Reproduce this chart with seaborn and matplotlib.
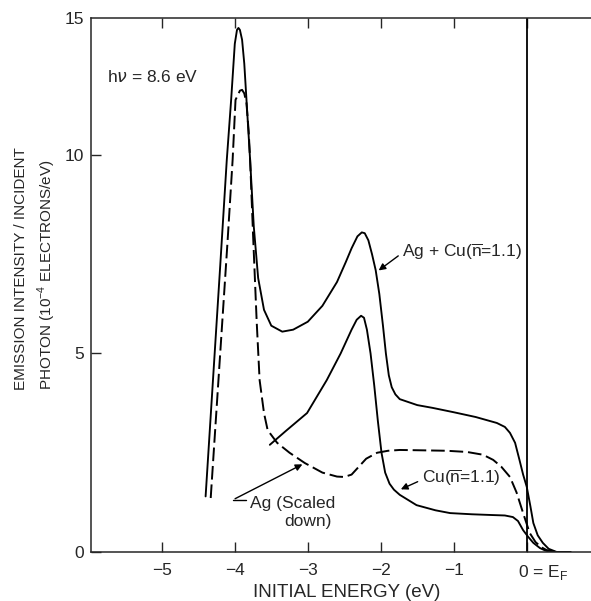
import numpy as np
import pandas as pd
import matplotlib
matplotlib.use('Agg')
import matplotlib.pyplot as plt
import matplotlib.transforms as mtransforms
import seaborn as sns

# ==========================================
# 1. DATA
# ==========================================
# Ag + Cu (n = 1.1), solid upper curve
agcu_x = [-4.40, -4.30, -4.20, -4.11, -4.05, -4.00, -3.97, -3.95, -3.93, -3.90, -3.87,
          -3.84, -3.79, -3.74, -3.68, -3.60, -3.50, -3.35, -3.20, -3.00, -2.80, -2.60,
          -2.48, -2.40, -2.32, -2.26, -2.22, -2.17, -2.12, -2.07, -2.02, -1.97, -1.93,
          -1.89, -1.85, -1.80, -1.74, -1.50, -1.29, -1.00, -0.70, -0.41, -0.30, -0.23,
          -0.16, -0.10, -0.05, 0.00, 0.05, 0.09, 0.15, 0.22, 0.30, 0.41, 0.60]
agcu_y = [1.4, 4.3, 7.2, 9.87, 11.39, 12.8, 13.15, 13.2, 13.15, 12.9, 12.3,
          11.39, 9.87, 8.2, 6.9, 6.1, 5.7, 5.55, 5.6, 5.8, 6.2, 6.8,
          7.3, 7.65, 7.95, 8.05, 8.03, 7.85, 7.5, 7.1, 6.5, 5.7, 5.0,
          4.45, 4.15, 3.97, 3.85, 3.7, 3.63, 3.52, 3.4, 3.25, 3.15, 3.0,
          2.75, 2.32, 1.95, 1.64, 1.15, 0.73, 0.42, 0.23, 0.08, 0.0, 0.0]

# Ag (scaled down), dashed curve
ag_x = [-4.33, -4.20, -4.10, -4.03, -3.99, -3.96, -3.93, -3.90, -3.87, -3.84, -3.81,
        -3.79, -3.75, -3.70, -3.66, -3.60, -3.55, -3.42, -3.25, -3.04, -2.80, -2.60,
        -2.50, -2.40, -2.30, -2.20, -2.05, -1.90, -1.74, -1.40, -1.10, -0.82, -0.60,
        -0.46, -0.35, -0.23, -0.14, -0.05, 0.04, 0.12, 0.20, 0.27, 0.40, 0.60]
ag_y = [1.36, 5.0, 7.8, 9.87, 11.39, 11.5, 11.62, 11.64, 11.55, 11.3, 10.6,
        9.87, 8.0, 5.8, 4.33, 3.5, 3.07, 2.75, 2.5, 2.24, 2.0, 1.9,
        1.89, 1.95, 2.15, 2.35, 2.5, 2.55, 2.57, 2.56, 2.55, 2.52, 2.45,
        2.32, 2.15, 1.89, 1.5, 0.98, 0.48, 0.25, 0.12, 0.05, 0.0, 0.0]

# Cu (n = 1.1), solid lower curve
cu_x = [-3.52, -3.30, -3.01, -2.74, -2.55, -2.40, -2.33, -2.27, -2.23, -2.19, -2.14,
        -2.09, -2.04, -1.99, -1.94, -1.88, -1.82, -1.74, -1.51, -1.25, -1.05, -0.75,
        -0.46, -0.30, -0.19, -0.12, -0.05, 0.02, 0.09, 0.18, 0.25, 0.32, 0.50, 0.60]
cu_y = [2.70, 3.05, 3.5, 4.33, 5.0, 5.6, 5.85, 5.95, 5.9, 5.6, 5.0,
        4.2, 3.3, 2.5, 2.0, 1.72, 1.57, 1.44, 1.18, 1.05, 0.98, 0.95,
        0.93, 0.92, 0.88, 0.78, 0.55, 0.38, 0.23, 0.1, 0.04, 0.0, 0.0, 0.0]

xticks = [-5, -4, -3, -2, -1, 0]
xtick_labels = ['\u22125', '\u22124', '\u22123', '\u22122', '\u22121', r'0 = E$_\mathregular{F}$']
y_top = 13.45
yticks = [0, 5, 10, y_top]
ytick_labels = ['0', '5', '10', '15']

df = pd.concat([
    pd.DataFrame({'E': agcu_x, 'I': agcu_y, 'curve': 'agcu'}),
    pd.DataFrame({'E': ag_x, 'I': ag_y, 'curve': 'ag'}),
    pd.DataFrame({'E': cu_x, 'I': cu_y, 'curve': 'cu'}),
], ignore_index=True)

# ==========================================
# 2. PLOT
# ==========================================
sns.set_style('ticks')
plt.rcParams['font.family'] = ['Liberation Sans', 'DejaVu Sans']
plt.rcParams['mathtext.fontset'] = 'custom'
plt.rcParams['mathtext.rm'] = 'Liberation Sans'

fig = plt.figure(figsize=(5.91, 6.01), dpi=100)
ax = fig.add_axes([91 / 591, 49 / 601, 500 / 591, 534 / 601])

sns.lineplot(data=df[df.curve == 'agcu'], x='E', y='I', sort=False, estimator=None,
             color='black', lw=1.35, ax=ax)
sns.lineplot(data=df[df.curve == 'cu'], x='E', y='I', sort=False, estimator=None,
             color='black', lw=1.35, ax=ax)
sns.lineplot(data=df[df.curve == 'ag'], x='E', y='I', sort=False, estimator=None,
             color='black', lw=1.4, ax=ax)
ax.lines[-1].set_dashes((7, 2.5))

ax.axvline(0, color='black', lw=1.3)

ax.set_xlim(-5.97, 0.88)
ax.set_ylim(0, y_top)
ax.set_xticks(xticks)
ax.set_xticklabels(xtick_labels, fontsize=12.5)
ax.set_yticks(yticks)
ax.set_yticklabels(ytick_labels, fontsize=12.5)
ax.tick_params(axis='x', direction='in', length=7, width=1, top=True, pad=8)
ax.tick_params(axis='y', direction='in', length=7, width=1, pad=5)
ax.yaxis.get_major_ticks()[-1].tick1line.set_visible(False)
ax.spines['right'].set_visible(False)
for s in ['left', 'bottom', 'top']:
    ax.spines[s].set_linewidth(1.1)

# shift "0 = E_F" so the zero sits on its tick
lab0 = ax.get_xticklabels()[-1]
lab0.set_horizontalalignment('left')
lab0.set_transform(lab0.get_transform() +
                   mtransforms.ScaledTranslation(-9 / 100, 0, fig.dpi_scale_trans))

ax.set_xlabel('INITIAL ENERGY (eV)', fontsize=13.5)
ax.xaxis.set_label_coords(0.512, -0.075)
ax.xaxis.label.set_verticalalignment('center')
ax.set_ylabel('')

fig.text(21 / 591, 1 - 390 / 601, 'EMISSION INTENSITY / INCIDENT', rotation=90,
         ha='center', va='bottom', fontsize=11)
fig.text(47 / 591, 1 - 390 / 601, r'PHOTON (10$^{-4}$ ELECTRONS/eV)', rotation=90,
         ha='center', va='bottom', fontsize=11)

# annotations
ax.text(-5.75, 11.96, r'h$\nu$ = 8.6 eV', fontsize=12.5, ha='left', va='center')

ax.text(-1.71, 7.56, r'Ag + Cu($\mathregular{\overline{n}}$=1.1)', fontsize=12.5,
        ha='left', va='center')
ax.annotate('', xy=(-2.06, 7.05), xytext=(-1.73, 7.5),
            arrowprops=dict(arrowstyle='-|>', color='black', lw=1, mutation_scale=10))

ax.text(-1.44, 1.86, r'Cu($\mathregular{\overline{n}}$=1.1)', fontsize=12.5,
        ha='left', va='center')
ax.annotate('', xy=(-1.76, 1.55), xytext=(-1.46, 1.8),
            arrowprops=dict(arrowstyle='-|>', color='black', lw=1, mutation_scale=10))

ax.text(-3.79, 1.23, 'Ag (Scaled', fontsize=12.5, ha='left', va='center')
ax.text(-3.32, 0.76, 'down)', fontsize=12.5, ha='left', va='center')
ax.plot([-4.03, -3.84], [1.31, 1.31], color='black', lw=1)
ax.annotate('', xy=(-3.04, 2.24), xytext=(-4.03, 1.31),
            arrowprops=dict(arrowstyle='-|>', color='black', lw=1, mutation_scale=10))

fig.savefig('out.png', dpi=100)
